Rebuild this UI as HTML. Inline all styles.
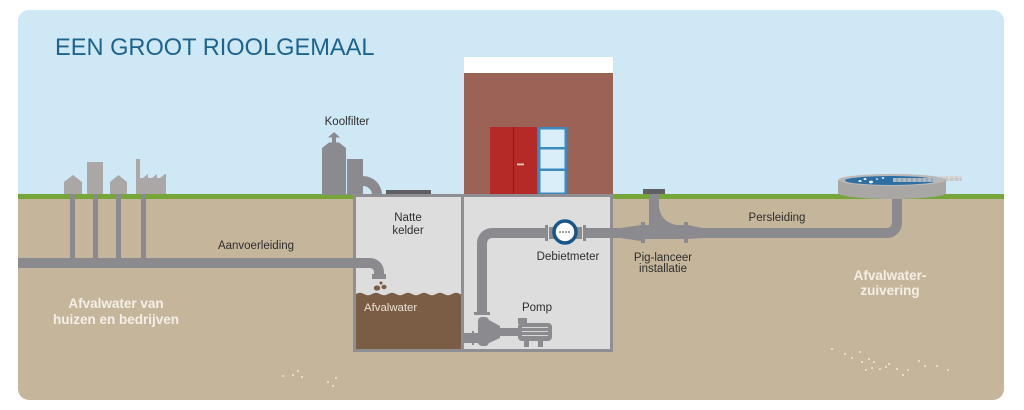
<!DOCTYPE html>
<html><head><meta charset="utf-8"><style>
html,body{margin:0;padding:0;background:#fff;}
svg{display:block;}
text{font-family:"Liberation Sans",sans-serif;}
</style></head><body>
<svg width="1024" height="410" viewBox="0 0 1024 410" xmlns="http://www.w3.org/2000/svg">
<defs><clipPath id="panel"><rect x="18" y="10" width="986" height="390" rx="11"/></clipPath></defs>
<rect width="1024" height="410" fill="#fff"/>
<g clip-path="url(#panel)">
  <rect x="18" y="10" width="986" height="185" fill="#cfe8f5"/>
  <rect x="18" y="194" width="986" height="206" fill="#c5b69b"/>
  <rect x="18" y="194" width="986" height="5" fill="#76a53a"/>
</g>

<!-- title -->
<text x="55" y="55" font-size="23.6" fill="#1d6390">EEN GROOT RIOOLGEMAAL</text>

<!-- houses / factory -->
<g fill="#aaa7a6">
  <polygon points="64,194 64,182 73,175 82,182 82,194"/>
  <rect x="87" y="162" width="16" height="32"/>
  <polygon points="110,194 110,182 118.5,175 127,182 127,194"/>
  <rect x="136" y="159" width="4" height="35"/>
  <polygon points="136,194 136,178 143,178 148,174 148,178 152,178 157,174 157,178 160,178 165,174 166,174 166,194"/>
</g>
<!-- house pipes -->
<g fill="#8b8a8e">
  <rect x="70" y="194" width="5" height="66"/>
  <rect x="93" y="194" width="5" height="66"/>
  <rect x="116" y="194" width="5" height="66"/>
  <rect x="141" y="194" width="5" height="66"/>
</g>

<!-- chamber -->
<rect x="353" y="194" width="260" height="158" fill="#8f8e92"/>
<rect x="356" y="197" width="254" height="152" fill="#dddddd"/>
<rect x="461" y="194" width="3" height="158" fill="#8f8e92"/>
<!-- brown water -->
<path d="M356,294 q4,-2.5 8,0 t8,0 t8,0 t8,0 t8,0 t8,0 t8,0 t8,0 t8,0 t8,0 t8,0 t8,0 t8,0 t1,0 V349 H356 Z" fill="#7b5c44"/>

<!-- aanvoer pipe -->
<path d="M18,258 H370 A14,14 0 0 1 384,272 V278 H374 V272 A4,4 0 0 0 370,268 H18 Z" fill="#8b8a8e"/>
<rect x="372" y="274" width="14" height="5" fill="#8b8a8e"/>
<g fill="#7b5c44">
  <ellipse cx="377" cy="288" rx="3.2" ry="2.6"/>
  <ellipse cx="384" cy="287" rx="2.6" ry="2.2"/>
  <ellipse cx="381" cy="283" rx="1.6" ry="1.5"/>
</g>

<!-- koolfilter -->
<g fill="#8b8a8e">
  <path d="M322,195 V148 L329,142.5 H339 L346,148 V195 Z"/>
  <rect x="332" y="136" width="4" height="7"/>
  <polygon points="328,137.5 334,132 340,137.5"/>
  <rect x="347" y="159" width="16" height="36"/>
  <path d="M363,176 A19,19 0 0 1 382,195 H372 A9,9 0 0 0 363,186 Z"/>
</g>
<rect x="386" y="190" width="45" height="5" fill="#606064"/>

<!-- building -->
<rect x="464" y="57" width="149" height="16" fill="#ffffff"/>
<rect x="464" y="73" width="149" height="122" fill="#9c6255"/>
<rect x="490" y="127" width="47" height="68" fill="#b52a27"/>
<rect x="513" y="127" width="1" height="68" fill="#8a1e1c"/>
<rect x="517" y="163.5" width="7" height="1.8" fill="#ecc9c0"/>
<rect x="538" y="127" width="29" height="68" fill="#3b8ac2"/>
<g fill="#d9eef8">
  <rect x="540.5" y="129.5" width="24" height="17.5"/>
  <rect x="540.5" y="149.5" width="24" height="19"/>
  <rect x="540.5" y="171" width="24" height="21.5"/>
</g>
<rect x="610" y="194" width="3" height="158" fill="#8f8e92"/>
<rect x="353" y="194" width="260" height="3" fill="#8f8e92"/>

<!-- pump pipe -->
<g fill="#8b8a8e">
  <path d="M477,313 V243 A15,15 0 0 1 492,228 H547 V238 H492 A5,5 0 0 0 487,243 V313 Z"/>
  <rect x="545" y="225" width="3" height="16"/>
  <rect x="549" y="227" width="6" height="12"/>
  <rect x="576" y="227" width="6" height="12"/>
  <rect x="583" y="225" width="3" height="16"/>
  <rect x="586" y="228" width="34" height="10"/>
  <!-- pump -->
  <rect x="474" y="312" width="16" height="3"/>
  <rect x="478" y="317" width="11" height="29" rx="4"/>
  <rect x="463" y="333" width="15" height="10"/>
  <rect x="472" y="331" width="2" height="14"/>
  <polygon points="489,320 500,326 500,338 489,343"/>
  <rect x="500" y="328" width="18" height="8"/>
  <rect x="518" y="318" width="9" height="6"/>
  <rect x="518" y="323" width="34" height="18" rx="4"/>
  <rect x="524" y="340" width="5" height="7"/>
  <rect x="538" y="340" width="5" height="7"/>
</g>
<g stroke="#d6d6d6" stroke-width="1">
  <line x1="522" y1="327.5" x2="548" y2="327.5"/>
  <line x1="522" y1="331.5" x2="548" y2="331.5"/>
  <line x1="522" y1="335.5" x2="548" y2="335.5"/>
</g>
<!-- debietmeter -->
<circle cx="565" cy="232" r="11" fill="#ffffff" stroke="#17568a" stroke-width="3.5"/>
<g fill="#a5a3a6">
  <rect x="559" y="231" width="2" height="2"/><rect x="562" y="231" width="2" height="2"/>
  <rect x="565" y="231" width="2" height="2"/><rect x="568" y="231" width="2" height="2"/>
</g>

<!-- pig-lanceer -->
<g fill="#8b8a8e">
  <polygon points="620,228 641,225 641,241 620,238"/>
  <rect x="641" y="222" width="4" height="21"/>
  <rect x="645" y="225" width="39" height="14"/>
  <path d="M649,193 H659 V207 Q661,224 682,226 L649,226 Z"/>
  <rect x="684" y="222" width="4" height="21"/>
  <polygon points="688,225 702,228 702,238 688,239"/>
  <path d="M702,228 H887 A5,5 0 0 0 892,223 V199 H902 V223 A15,15 0 0 1 887,238 H702 Z"/>
</g>
<rect x="643" y="189" width="22" height="5" fill="#606064"/>

<!-- treatment plant -->
<rect x="940" y="176" width="22" height="5" fill="#c9c7c6"/>
<g stroke="#e6e6e6" stroke-width="0.8">
  <line x1="940" y1="177" x2="962" y2="177"/>
  <line x1="944" y1="176" x2="944" y2="181"/><line x1="949" y1="176" x2="949" y2="181"/>
  <line x1="954" y1="176" x2="954" y2="181"/><line x1="959" y1="176" x2="959" y2="181"/>
</g>
<ellipse cx="892" cy="193" rx="54" ry="6" fill="#a9a7a6"/>
<rect x="838" y="180" width="108" height="13" fill="#a9a7a6"/>
<ellipse cx="892" cy="180" rx="54" ry="6" fill="#bab8b7"/>
<ellipse cx="891" cy="180.5" rx="46" ry="4.5" fill="#2d6fa3"/>
<rect x="893" y="178" width="44" height="4" fill="#aeb9c4"/>
<g stroke="#6d89a6" stroke-width="0.8">
  <line x1="897" y1="178" x2="897" y2="182"/><line x1="902" y1="178" x2="902" y2="182"/>
  <line x1="907" y1="178" x2="907" y2="182"/><line x1="912" y1="178" x2="912" y2="182"/>
  <line x1="917" y1="178" x2="917" y2="182"/><line x1="922" y1="178" x2="922" y2="182"/>
  <line x1="927" y1="178" x2="927" y2="182"/><line x1="932" y1="178" x2="932" y2="182"/>
</g>
<g fill="#e6f1fa">
  <ellipse cx="860" cy="181" rx="1.6" ry="1"/>
  <ellipse cx="865" cy="179" rx="1.5" ry="1"/>
  <ellipse cx="871" cy="182" rx="2" ry="1.4"/>
  <ellipse cx="877" cy="179" rx="1.2" ry="0.8"/>
  <ellipse cx="883" cy="178" rx="1.3" ry="0.9"/>
</g>

<!-- dots -->
<g fill="#f3ead2">
  <circle cx="283" cy="376" r="1"/><circle cx="293" cy="375" r="1"/><circle cx="298" cy="371" r="1"/><circle cx="302" cy="377" r="1"/>
  <circle cx="328" cy="382" r="1"/><circle cx="336" cy="378" r="1"/><circle cx="333" cy="386" r="1"/>
  <circle cx="832" cy="349" r="1"/><circle cx="845" cy="354" r="1"/><circle cx="852" cy="358" r="1"/><circle cx="860" cy="352" r="1"/>
  <circle cx="862" cy="362" r="1"/><circle cx="869" cy="359" r="1"/><circle cx="874" cy="362" r="1"/><circle cx="880" cy="369" r="1"/>
  <circle cx="866" cy="370" r="1"/><circle cx="872" cy="368" r="1"/><circle cx="886" cy="367" r="1"/><circle cx="889" cy="364" r="1"/>
  <circle cx="897" cy="369" r="1"/><circle cx="903" cy="375" r="1"/><circle cx="908" cy="370" r="1"/><circle cx="919" cy="361" r="1"/>
  <circle cx="925" cy="366" r="1"/><circle cx="937" cy="366" r="1"/><circle cx="948" cy="370" r="1"/>
</g>

<!-- labels -->
<g font-size="11.5" fill="#2e2e2e" text-anchor="middle">
  <text x="347" y="125">Koolfilter</text>
  <text x="408" y="221">Natte</text>
  <text x="408" y="234">kelder</text>
  <text x="568" y="260">Debietmeter</text>
  <text x="537" y="311">Pomp</text>
  <text x="663" y="261">Pig-lanceer</text>
  <text x="663" y="272">installatie</text>
  <text x="777" y="221">Persleiding</text>
  <text x="256" y="249">Aanvoerleiding</text>
</g>
<text x="364" y="311" font-size="11.4" fill="#ece2d4">Afvalwater</text>
<g font-size="13.5" font-weight="bold" fill="#f4efe6" text-anchor="middle">
  <text x="116" y="308">Afvalwater van</text>
  <text x="116" y="324">huizen en bedrijven</text>
  <text x="890" y="280">Afvalwater-</text>
  <text x="890" y="295">zuivering</text>
</g>
</svg>
</body></html>
